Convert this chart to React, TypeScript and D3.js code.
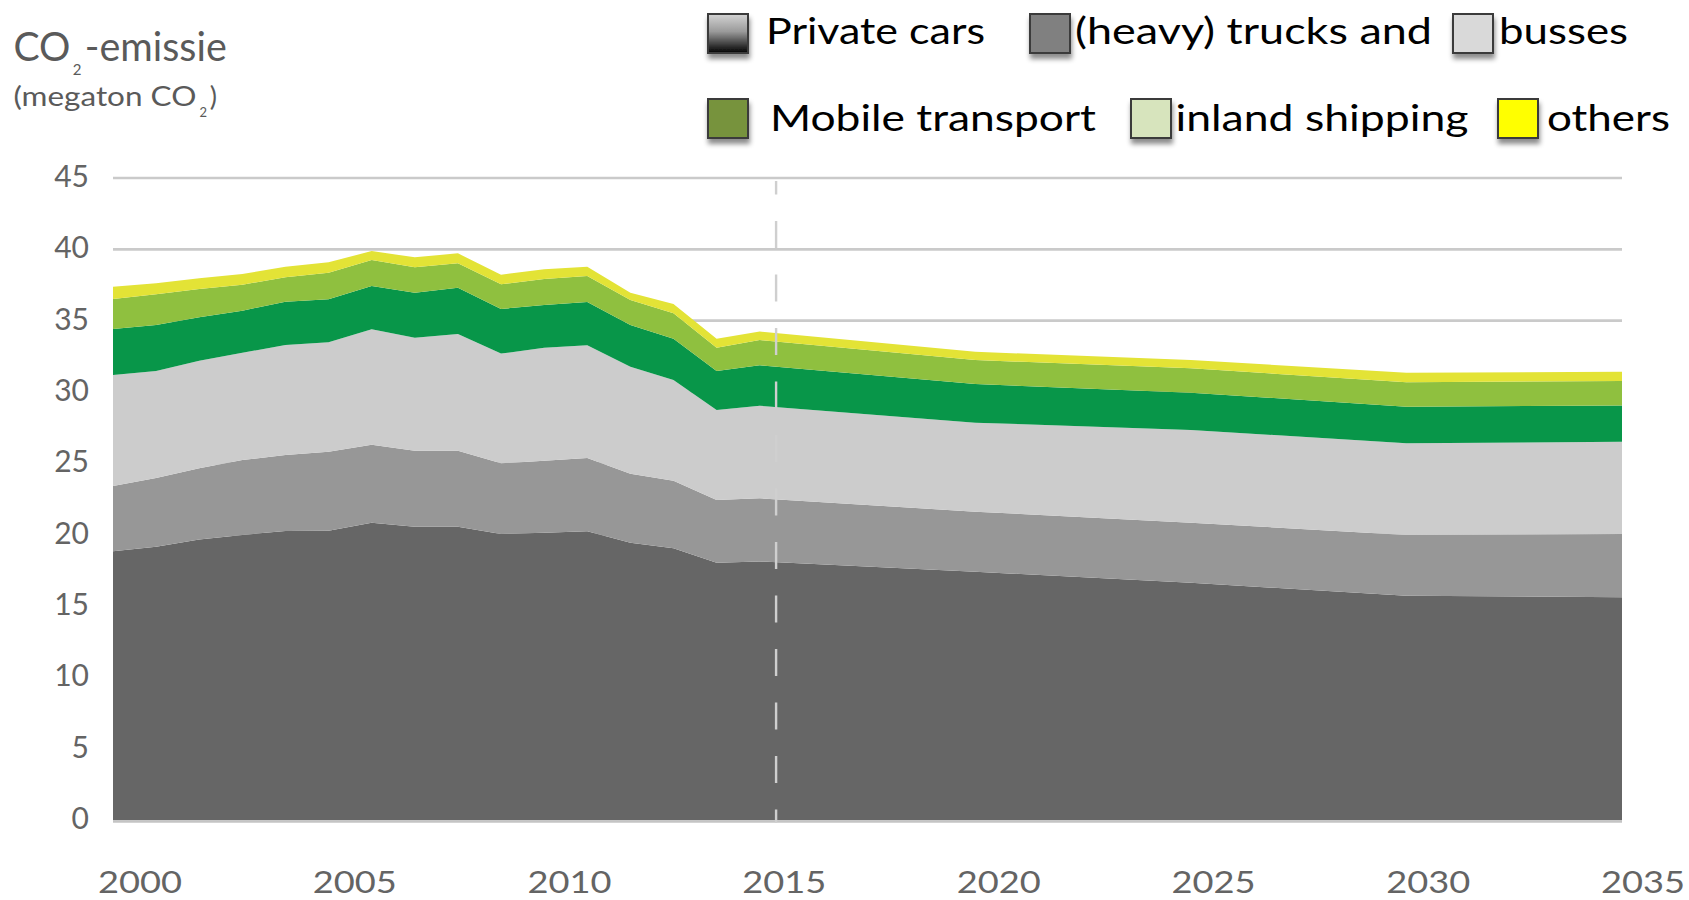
import React from 'react';
import * as d3 from 'd3';

// ---- data (megaton CO2) ----
const years = [2000, 2001, 2002, 2003, 2004, 2005, 2006, 2007, 2008, 2009, 2010, 2011, 2012, 2013, 2014, 2015, 2020, 2025, 2030, 2035];
const privateCars = [18.83, 19.16, 19.67, 19.98, 20.26, 20.28, 20.84, 20.56, 20.56, 20.05, 20.14, 20.24, 19.44, 19.04, 18.04, 18.12, 17.40, 16.63, 15.72, 15.61];
const heavyTrucks = [4.58, 4.81, 4.98, 5.25, 5.32, 5.54, 5.47, 5.33, 5.33, 4.95, 5.04, 5.13, 4.83, 4.74, 4.39, 4.43, 4.21, 4.21, 4.26, 4.44];
const busses = [7.78, 7.50, 7.54, 7.52, 7.71, 7.66, 8.08, 7.92, 8.18, 7.69, 7.92, 7.90, 7.50, 7.06, 6.31, 6.49, 6.24, 6.50, 6.42, 6.47];
const mobileTransport = [3.23, 3.23, 3.05, 2.95, 3.04, 3.02, 3.04, 3.15, 3.24, 3.13, 3.00, 3.04, 2.93, 2.90, 2.73, 2.83, 2.71, 2.61, 2.57, 2.53];
const inlandShipping = [2.10, 2.15, 1.98, 1.82, 1.71, 1.86, 1.82, 1.78, 1.71, 1.73, 1.82, 1.82, 1.75, 1.78, 1.63, 1.77, 1.68, 1.71, 1.71, 1.72];
const others = [0.86, 0.77, 0.75, 0.75, 0.74, 0.73, 0.63, 0.70, 0.70, 0.67, 0.68, 0.65, 0.51, 0.65, 0.64, 0.60, 0.58, 0.58, 0.67, 0.65];

const seriesNames = ['Private cars', '(heavy) trucks and', 'busses', 'Mobile transport', 'inland shipping', 'others'];
const seriesValues = [privateCars, heavyTrucks, busses, mobileTransport, inlandShipping, others];
const yTicks = [0, 5, 10, 15, 20, 25, 30, 35, 40, 45];
const xTicks = [2000, 2005, 2010, 2015, 2020, 2025, 2030, 2035];
const markerYear = 2015.38;

const areaColors = ['#666666', '#979797', '#cccccc', '#089649', '#8fc03f', '#e3e336'];
const legendFills = ['url(#carGrad)', '#808080', '#d9d9d9', '#77933c', '#d7e4bd', '#ffff00'];

export default function App() {
  const W = 1689, H = 900;
  const x = d3.scaleLinear().domain([2000, 2035]).range([113, 1622]);
  const y = d3.scaleLinear().domain([0, 45]).range([820, 178]);
  const xLab = d3.scaleLinear().domain([2000, 2035]).range([140, 1643]);

  const rows = years.map((yr, i) => {
    const r: any = { year: yr };
    seriesNames.forEach((n, k) => { r[n] = seriesValues[k][i]; });
    return r;
  });
  const stack = d3.stack<any>().keys(seriesNames)(rows);
  const area = d3.area<any>()
    .x((d) => x(d.data.year))
    .y0((d) => y(d[0]))
    .y1((d) => y(d[1]));

  // legend layout: [boxX, textX, textWidth, row]
  const legendLayout = [
    [708, 766, 219, 0], [1030, 1075, 357, 0], [1453, 1499, 129, 0],
    [708, 770, 326, 1], [1131, 1175.5, 293, 1], [1498, 1547, 123, 1],
  ];
  const rowBoxTop = [14, 99];
  const rowBase = [44, 131];

  const tickFont = 'Lato, sans-serif';
  const grey = '#646464';

  return (
    <svg width={W} height={H} style={{ position: 'absolute', left: 0, top: 0, background: '#fff' }}>
      <defs>
        <linearGradient id="carGrad" x1="0" y1="0" x2="0" y2="1">
          <stop offset="0" stopColor="#d4d4d4" />
          <stop offset="0.45" stopColor="#9a9a9a" />
          <stop offset="1" stopColor="#000000" />
        </linearGradient>
        <filter id="shadow" x="-30%" y="-30%" width="160%" height="170%">
          <feDropShadow dx="1" dy="5" stdDeviation="2.5" floodColor="#000" floodOpacity="0.45" />
        </filter>
      </defs>

      {/* gridlines */}
      {yTicks.map((t) => (
        <line key={t} x1={x(2000)} x2={x(2035)} y1={y(t)} y2={y(t)} stroke="#cacaca" strokeWidth={2.7} />
      ))}

      {/* areas */}
      {stack.map((s, i) => (
        <path key={s.key} d={area(s) || ''} fill={areaColors[i]} />
      ))}

      {/* baseline */}
      <line x1={x(2000)} x2={x(2035)} y1={y(0) + 1.6} y2={y(0) + 1.6} stroke="#c4c4c4" strokeWidth={2.4} />

      {/* 2015 marker */}
      <line x1={x(markerYear)} x2={x(markerYear)} y1={181} y2={y(0) + 3} stroke="#cfcfcf" strokeWidth={2.4}
        strokeDasharray="27 26.5" strokeDashoffset={13.5} />

      {/* y tick labels */}
      {yTicks.map((t) => (
        <text key={t} x={89} y={y(t) + 9} textAnchor="end" fontFamily={tickFont} fontSize={30} fill={grey}>{t}</text>
      ))}

      {/* x tick labels */}
      {xTicks.map((t) => (
        <text key={t} x={xLab(t)} y={893} textAnchor="middle" fontFamily={tickFont} fontSize={30} fill={grey}
          textLength={84} lengthAdjust="spacingAndGlyphs">{t}</text>
      ))}

      {/* axis title */}
      <g fontFamily="Lato, sans-serif" fill="#5a5a5a">
        <text x={13.4} y={61} fontSize={40} textLength={57} lengthAdjust="spacingAndGlyphs">CO</text>
        <text x={72.8} y={75} fontSize={15}>2</text>
        <text x={84.8} y={61} fontSize={40} textLength={142} lengthAdjust="spacingAndGlyphs">-emissie</text>
        <text x={13.4} y={106} fontSize={27} textLength={183} lengthAdjust="spacingAndGlyphs">(megaton CO</text>
        <text x={199.6} y={117} fontSize={13}>2</text>
        <text x={209.8} y={106} fontSize={27}>)</text>
      </g>

      {/* legend */}
      {legendLayout.map(([bx, tx, tw, row], i) => (
        <g key={seriesNames[i]}>
          <rect x={bx} y={rowBoxTop[row]} width={40} height={39} fill={legendFills[i]} stroke="#3a3a3a"
            strokeWidth={2} filter="url(#shadow)" />
          <text x={tx} y={rowBase[row]} fontFamily="Lato, sans-serif" fontSize={37} fill="#000"
            textLength={tw} lengthAdjust="spacingAndGlyphs">{seriesNames[i]}</text>
        </g>
      ))}
    </svg>
  );
}
